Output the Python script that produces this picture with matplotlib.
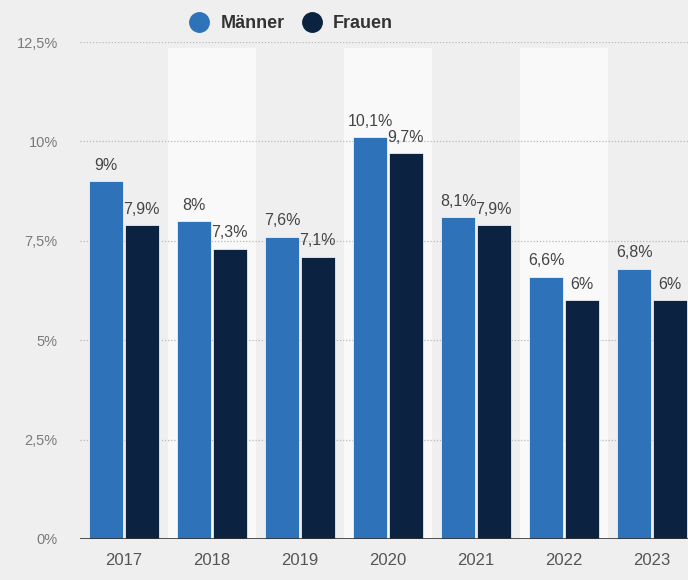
import matplotlib
matplotlib.use("Agg")
import matplotlib.pyplot as plt
from matplotlib.lines import Line2D
import numpy as np

years = ["2017", "2018", "2019", "2020", "2021", "2022", "2023"]
maenner = [9.0, 8.0, 7.6, 10.1, 8.1, 6.6, 6.8]
frauen = [7.9, 7.3, 7.1, 9.7, 7.9, 6.0, 6.0]
yticks = [0, 2.5, 5, 7.5, 10, 12.5]
ytick_labels = ["0%", "2,5%", "5%", "7,5%", "10%", "12,5%"]
series_names = ["Männer", "Frauen"]

c_m = "#2e72ba"
c_f = "#0b2340"
bg = "#efefef"
band = "#f9f9f9"

plt.rcParams["font.family"] = ["Liberation Sans", "DejaVu Sans"]

fig = plt.figure(figsize=(6.88, 5.80), dpi=100)
fig.patch.set_facecolor(bg)
ax = fig.add_axes([80/688, 41/580, (688-80)/688, (539-42)/580])
ax.set_facecolor(bg)

x = np.arange(len(years))
w = 0.386
gap = 0.017

# alternating bands
for i in x:
    if i % 2 == 1:
        ax.axvspan(i - 0.5, i + 0.5, ymin=0, ymax=12.35/12.5, color=band, zorder=0, lw=0)

for yv in yticks[1:]:
    ax.axhline(yv, color="#b8b8b8", lw=0.9, ls=(0, (1, 1.5)), zorder=1)

bm = ax.bar(x - w/2 - gap/2, maenner, w, color=c_m, zorder=2, edgecolor="white", linewidth=0.5)
bf = ax.bar(x + w/2 + gap/2, frauen, w, color=c_f, zorder=2, edgecolor="white", linewidth=0.5)

def fmt(v):
    s = ("%.1f" % v).rstrip("0").rstrip(".")
    return s.replace(".", ",") + "%"

for bars, vals in ((bm, maenner), (bf, frauen)):
    for b, v in zip(bars, vals):
        ax.annotate(fmt(v), (b.get_x() + b.get_width()/2, v), xytext=(0, 6),
                    textcoords="offset points", ha="center", va="bottom",
                    fontsize=11.5, color="#444444", zorder=3)

ax.axhline(0, color="#333333", lw=1.2, zorder=3)

ax.set_xlim(-0.5, 6.41)
ax.set_ylim(0, 12.5)
ax.set_xticks(x)
ax.set_xticklabels(years, fontsize=12, color="#555555")
ax.set_yticks(yticks)
ax.set_yticklabels(ytick_labels, fontsize=10.5, color="#7a7a7a")
ax.tick_params(axis="both", length=0)
ax.tick_params(axis="x", pad=10)
ax.tick_params(axis="y", pad=16)
for s in ax.spines.values():
    s.set_visible(False)

handles = [Line2D([0], [0], marker="o", ls="", markersize=14, markerfacecolor=c, markeredgecolor=c)
           for c in (c_m, c_f)]
leg = fig.legend(handles, series_names, loc="center", bbox_to_anchor=(0.417, 0.959),
                 ncol=2, frameon=False, handletextpad=0.2, columnspacing=0.5,
                 prop={"size": 13, "weight": "bold"})
for t in leg.get_texts():
    t.set_color("#333333")

fig.savefig("out.png", dpi=100, facecolor=bg)
